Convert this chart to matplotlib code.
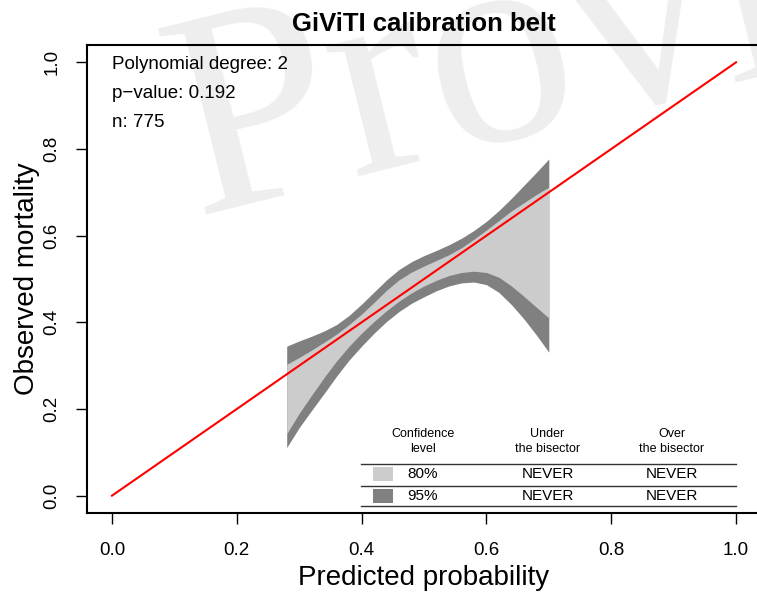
import numpy as np
import matplotlib
matplotlib.use("Agg")
import matplotlib.pyplot as plt

plt.rcParams['font.family'] = ['Liberation Sans', 'DejaVu Sans']

# belt boundaries
belt_x = [0.28, 0.30, 0.32, 0.34, 0.36, 0.38, 0.40, 0.42, 0.44, 0.46, 0.48,
          0.50, 0.52, 0.54, 0.56, 0.58, 0.60, 0.62, 0.64, 0.66, 0.68, 0.70]
upper_95 = [0.345, 0.357, 0.368, 0.380, 0.395, 0.416, 0.442, 0.470, 0.498, 0.522, 0.540,
            0.554, 0.566, 0.579, 0.594, 0.612, 0.633, 0.658, 0.686, 0.716, 0.746, 0.777]
upper_80 = [0.303, 0.319, 0.336, 0.354, 0.373, 0.395, 0.419, 0.446, 0.474, 0.498, 0.516,
            0.530, 0.543, 0.556, 0.572, 0.592, 0.613, 0.635, 0.657, 0.676, 0.695, 0.712]
lower_80 = [0.143, 0.190, 0.232, 0.273, 0.311, 0.345, 0.375, 0.402, 0.427, 0.449, 0.468,
            0.484, 0.497, 0.508, 0.515, 0.518, 0.515, 0.504, 0.484, 0.460, 0.435, 0.410]
lower_95 = [0.111, 0.157, 0.197, 0.236, 0.276, 0.313, 0.345, 0.375, 0.402, 0.425, 0.444,
            0.459, 0.473, 0.484, 0.491, 0.493, 0.487, 0.469, 0.441, 0.408, 0.371, 0.331]

bisector = [0.0, 1.0]
ticks = [0.0, 0.2, 0.4, 0.6, 0.8, 1.0]

info_lines = ['Polynomial degree: 2', 'p\u2212value: 0.192', 'n: 775']
headers = ['Confidence\nlevel', 'Under\nthe bisector', 'Over\nthe bisector']
levels = ['80%', '95%']
under = ['NEVER', 'NEVER']
over = ['NEVER', 'NEVER']
level_colors = ['#cccccc', '#808080']

fig = plt.figure(figsize=(7.57, 5.97), dpi=100)
W, H = 757, 597
ax = fig.add_axes([87 / W, 1 - 513 / H, 674 / W, 468 / H])
ax.set_facecolor('none')

# faint watermark behind everything
fig.text(196 / W, 1 - 215 / H, 'Provisional', rotation=14, rotation_mode='anchor',
         fontsize=210, family='Liberation Serif', color='#eeeeee',
         ha='left', va='baseline', zorder=-5)

ax.fill_between(belt_x, lower_95, upper_95, color=level_colors[1], lw=0, zorder=2)
ax.fill_between(belt_x, lower_80, upper_80, color=level_colors[0], lw=0, zorder=3)
ax.plot(bisector, bisector, color='red', lw=1.5, zorder=4)

ax.set_xlim(-0.04, 1.04)
ax.set_ylim(-0.04, 1.04)
ax.set_xticks(ticks)
ax.set_yticks(ticks)
ax.set_xticklabels([f'{t:.1f}' for t in ticks])
ax.set_yticklabels([f'{t:.1f}' for t in ticks], rotation=90, va='center')
ax.tick_params(direction='out', length=8, width=1, labelsize=13.5)
ax.tick_params(axis='x', pad=13)
ax.tick_params(axis='y', pad=11)
for s in ax.spines.values():
    s.set_linewidth(1.5)

ax.set_xlabel('Predicted probability', fontsize=20)
ax.set_ylabel('Observed mortality', fontsize=20)
ax.xaxis.set_label_coords(0.5, -0.112)
ax.yaxis.set_label_coords(-0.07, 0.5)
ax.set_title('GiViTI calibration belt', fontsize=18.5, fontweight='bold', pad=10)

for i, line in enumerate(info_lines):
    ax.text(0.0, 0.985 - i * 0.067, line, fontsize=13.5, ha='left', va='baseline', zorder=5)

# legend table in the lower right
col_x = [0.498, 0.698, 0.897]
for cx, h in zip(col_x, headers):
    ax.text(cx, 0.095, h, fontsize=9, ha='center', va='bottom', linespacing=1.25, zorder=5)
for yl in [0.074, 0.023, -0.023]:
    ax.plot([0.399, 1.0], [yl, yl], color='#333333', lw=1, zorder=5)
row_y = [0.049, -0.001]
for j, lev in enumerate(levels):
    ax.add_patch(plt.Rectangle((0.419, row_y[j] - 0.016), 0.032, 0.033,
                               color=level_colors[j], lw=0, zorder=5))
    ax.text(col_x[0], row_y[j], lev, fontsize=11, ha='center', va='center', zorder=5)
    ax.text(col_x[1], row_y[j], under[j], fontsize=11, ha='center', va='center', zorder=5)
    ax.text(col_x[2], row_y[j], over[j], fontsize=11, ha='center', va='center', zorder=5)

fig.savefig('out.png', dpi=100)
